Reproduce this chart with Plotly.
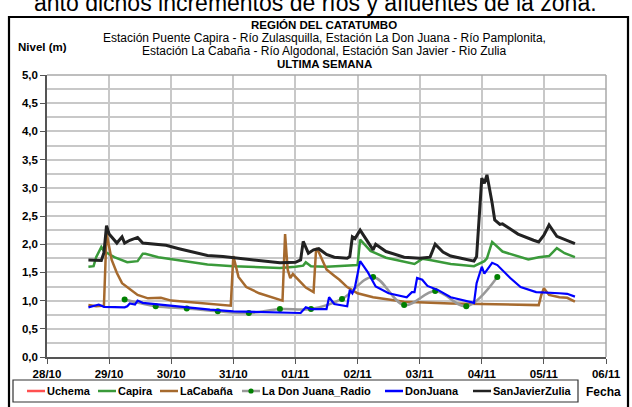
import plotly.graph_objects as go

YEAR = "2013"

# ---- data: river level (m) per station, timestamps "MM-DD HH:MM" ----
capira_t = ["10-28 16:00", "10-28 18:00", "10-28 19:00", "10-28 21:00", "10-28 22:00",
            "10-29 00:00", "10-29 02:00", "10-29 07:00", "10-29 11:00", "10-29 13:00",
            "10-29 14:00", "10-29 19:00", "10-30 03:00", "10-30 14:00", "10-31 00:00",
            "10-31 12:00", "10-31 18:00", "11-01 00:00", "11-01 03:00", "11-01 04:00",
            "11-01 06:00", "11-01 12:00", "11-02 00:00", "11-02 01:00", "11-02 05:00",
            "11-02 11:00", "11-02 20:00", "11-02 22:00", "11-03 01:00", "11-03 04:00",
            "11-03 12:00", "11-03 21:00", "11-04 01:00", "11-04 02:00", "11-04 04:00",
            "11-04 08:00", "11-04 18:00", "11-04 22:00", "11-05 02:00", "11-05 05:00",
            "11-05 08:00", "11-05 12:00"]
capira_v = [1.60, 1.61, 1.77, 1.95, 1.88,
            1.82, 1.77, 1.68, 1.70, 1.83,
            1.83, 1.77, 1.71, 1.64, 1.61,
            1.59, 1.58, 1.60, 1.62, 1.68,
            1.61, 1.60, 1.63, 2.08, 1.88,
            1.76, 1.67, 1.65, 1.74, 1.72,
            1.65, 1.61, 1.70, 1.75, 2.04,
            1.87, 1.73, 1.77, 1.79, 1.93,
            1.84, 1.77]

cabana_t = ["10-28 16:00", "10-28 19:00", "10-28 22:00", "10-28 23:00", "10-29 01:00",
            "10-29 03:00", "10-29 05:00", "10-29 08:00", "10-29 11:00", "10-29 15:00",
            "10-29 20:00", "10-30 00:00", "10-30 08:00", "10-30 14:00", "10-30 20:00",
            "10-30 23:00", "10-31 00:00", "10-31 02:00", "10-31 05:00", "10-31 10:00",
            "10-31 19:00", "10-31 20:00", "10-31 21:00", "10-31 22:00", "10-31 23:00",
            "11-01 02:00", "11-01 04:00", "11-01 07:00", "11-01 08:00", "11-01 09:00",
            "11-01 12:00", "11-01 15:00", "11-01 17:00", "11-01 20:00", "11-02 00:00",
            "11-02 06:00", "11-02 18:00", "11-03 12:00", "11-04 00:00", "11-04 12:00",
            "11-04 22:00", "11-04 23:00", "11-05 00:00", "11-05 02:00", "11-05 06:00",
            "11-05 09:00", "11-05 12:00"]
cabana_v = [0.92, 0.90, 0.91, 2.20, 1.72,
            1.49, 1.31, 1.20, 1.10, 1.04,
            1.05, 1.00, 0.97, 0.95, 0.93,
            0.91, 1.79, 1.42, 1.24, 1.13,
            1.00, 2.18, 1.55, 1.40, 1.47,
            1.33, 1.23, 1.15, 1.93, 1.86,
            1.55, 1.44, 1.37, 1.24, 1.13,
            1.06, 0.98, 0.95, 0.94, 0.92,
            0.92, 1.10, 1.22, 1.10, 1.06,
            1.05, 0.98]

radio_t = ["10-29 06:00", "10-29 18:00", "10-30 06:00", "10-30 18:00", "10-31 06:00",
           "10-31 18:00", "11-01 06:00", "11-01 18:00", "11-02 06:00", "11-02 18:00",
           "11-03 06:00", "11-03 18:00", "11-04 06:00"]
radio_v = [1.02, 0.90, 0.86, 0.81, 0.78,
           0.85, 0.85, 1.03, 1.42, 0.92,
           1.17, 0.90, 1.42]

donjuana_t = ["10-28 16:00", "10-28 20:00", "10-28 22:00", "10-29 06:00", "10-29 07:00",
              "10-29 08:00", "10-29 10:00", "10-29 11:00", "10-29 13:00", "10-29 19:00",
              "10-30 03:00", "10-30 15:00", "10-31 00:00", "10-31 12:00", "10-31 20:00",
              "11-01 02:00", "11-01 04:00", "11-01 06:00", "11-01 12:00", "11-01 13:00",
              "11-01 15:00", "11-01 20:00", "11-01 21:00", "11-01 22:00", "11-01 23:00",
              "11-02 01:00", "11-02 04:00", "11-02 07:00", "11-02 12:00", "11-02 19:00",
              "11-02 21:00", "11-02 22:00", "11-02 23:00", "11-03 01:00", "11-03 03:00",
              "11-03 07:00", "11-03 12:00", "11-03 21:00", "11-03 22:00", "11-04 00:00",
              "11-04 01:00", "11-04 04:00", "11-04 06:00", "11-04 11:00", "11-04 15:00",
              "11-04 21:00", "11-05 06:00", "11-05 09:00", "11-05 12:00"]
donjuana_v = [0.88, 0.93, 0.89, 0.88, 0.90,
              0.95, 0.93, 1.00, 0.96, 0.93,
              0.89, 0.84, 0.81, 0.79, 0.79,
              0.78, 0.88, 0.85, 0.85, 1.06,
              0.94, 0.90, 1.19, 1.13, 1.24,
              1.70, 1.50, 1.25, 1.13, 1.06,
              1.15, 1.15, 1.40, 1.37, 1.26,
              1.19, 1.06, 0.96, 1.31, 1.60,
              1.48, 1.67, 1.63, 1.40, 1.24,
              1.15, 1.13, 1.12, 1.07]

sanjavier_t = ["10-28 16:00", "10-28 21:00", "10-28 22:00", "10-28 23:00", "10-29 00:00",
               "10-29 03:00", "10-29 05:00", "10-29 06:00", "10-29 08:00", "10-29 11:00",
               "10-29 13:00", "10-29 16:00", "10-29 18:00", "10-29 22:00", "10-30 03:00",
               "10-30 08:00", "10-30 14:00", "10-30 20:00", "10-31 00:00", "10-31 12:00",
               "10-31 18:00", "11-01 00:00", "11-01 02:00", "11-01 03:00", "11-01 05:00",
               "11-01 07:00", "11-01 09:00", "11-01 12:00", "11-01 15:00", "11-01 20:00",
               "11-01 21:00", "11-01 22:00", "11-01 23:00", "11-02 01:00", "11-02 05:00",
               "11-02 06:00", "11-02 07:00", "11-02 11:00", "11-02 18:00", "11-03 00:00",
               "11-03 04:00", "11-03 06:00", "11-03 09:00", "11-03 12:00", "11-03 16:00",
               "11-03 21:00", "11-03 22:00", "11-03 23:00", "11-04 00:00", "11-04 01:00",
               "11-04 02:00", "11-04 04:00", "11-04 05:00", "11-04 07:00", "11-04 08:00",
               "11-04 10:00", "11-04 14:00", "11-04 20:00", "11-04 22:00", "11-05 00:00",
               "11-05 02:00", "11-05 05:00", "11-05 08:00", "11-05 12:00"]
sanjavier_v = [1.72, 1.71, 1.85, 2.33, 2.18,
               2.02, 2.13, 2.02, 2.07, 2.12,
               2.02, 2.01, 1.99, 1.98, 1.92,
               1.87, 1.80, 1.78, 1.76, 1.70,
               1.67, 1.68, 1.72, 2.05, 1.84,
               1.90, 1.92, 1.82, 1.77, 1.75,
               1.78, 2.13, 2.10, 2.25, 1.95,
               1.90, 2.00, 1.87, 1.77, 1.75,
               1.77, 2.00, 1.86, 1.79, 1.75,
               1.70, 1.78, 2.40, 3.17, 3.08,
               3.23, 2.73, 2.43, 2.35, 2.36,
               2.30, 2.18, 2.07, 2.04, 2.16,
               2.34, 2.14, 2.08, 2.01]

series_names = ["Uchema", "Capira", "LaCabaña", "La Don Juana_Radio", "DonJuana", "SanJavierZulia"]
series_colors = ["#ff5050", "#3a9a3a", "#a66a2e", "#999999", "#0000ff", "#222222"]

title_lines = ["<b>REGIÓN DEL CATATUMBO</b>",
               "Estación Puente Capira - Río Zulasquilla, Estación La Don Juana - Río Pamplonita,",
               "Estación La Cabaña - Río Algodonal, Estación San Javier - Rio Zulia",
               "<b>ULTIMA SEMANA</b>"]

FONT = "Arial, Liberation Sans, sans-serif"


def stamp(ts):
    return [f"{YEAR}-{s}" for s in ts]


fig = go.Figure()

# Uchema has no readings in this week
fig.add_trace(go.Scatter(x=[], y=[], mode="lines", name=series_names[0],
                         line=dict(color=series_colors[0], width=2.5), showlegend=False))
fig.add_trace(go.Scatter(x=stamp(capira_t), y=capira_v, mode="lines", name=series_names[1],
                         line=dict(color=series_colors[1], width=2.5), showlegend=False))
fig.add_trace(go.Scatter(x=stamp(cabana_t), y=cabana_v, mode="lines", name=series_names[2],
                         line=dict(color=series_colors[2], width=2.5), showlegend=False))
fig.add_trace(go.Scatter(x=stamp(radio_t), y=radio_v, mode="lines+markers", name=series_names[3],
                         line=dict(color=series_colors[3], width=2.5, shape="spline", smoothing=1.0),
                         marker=dict(color="#008000", size=6), showlegend=False))
fig.add_trace(go.Scatter(x=stamp(donjuana_t), y=donjuana_v, mode="lines", name=series_names[4],
                         line=dict(color=series_colors[4], width=2.2), showlegend=False))
fig.add_trace(go.Scatter(x=stamp(sanjavier_t), y=sanjavier_v, mode="lines", name=series_names[5],
                         line=dict(color=series_colors[5], width=3), showlegend=False))

# plot area occupies pixels x 47..606, y 75..357 of a 632x407 canvas
L, R, T, B = 47, 606, 75, 357


def px(x):
    return (x - L) / (R - L)


def py(y):
    return (B - y) / (B - T)


shapes = []
annotations = []

# outer chart frame
shapes.append(dict(type="rect", xref="paper", yref="paper",
                   x0=px(9), x1=px(628), y0=py(430), y1=py(17),
                   line=dict(color="black", width=2.2), layer="below"))
# light border on top / right of plot area
shapes.append(dict(type="line", xref="paper", yref="paper", x0=0, x1=1, y0=1, y1=1,
                   line=dict(color="#a8a8a8", width=1.5)))
shapes.append(dict(type="line", xref="paper", yref="paper", x0=1, x1=1, y0=0, y1=1,
                   line=dict(color="#a8a8a8", width=1.5)))

# title block
title_sizes = [11.5, 12, 12, 11.5]
for txt, ypix, fs in zip(title_lines, [25, 38, 51, 64], title_sizes):
    annotations.append(dict(text=txt, xref="paper", yref="paper", x=px(324), y=py(ypix),
                            xanchor="center", yanchor="middle", showarrow=False,
                            font=dict(family=FONT, size=fs, color="black")))

# text line above the chart frame (its upper part runs off the page)
annotations.append(dict(text="anto dichos incrementos de ríos y afluentes de la zona.",
                        xref="paper", yref="paper", x=px(32), y=py(18),
                        xanchor="left", yanchor="bottom", showarrow=False,
                        font=dict(family=FONT, size=23, color="black")))

annotations.append(dict(text="<b>Nivel (m)</b>", xref="paper", yref="paper", x=px(16), y=py(47),
                        xanchor="left", yanchor="middle", showarrow=False,
                        font=dict(family=FONT, size=11.5, color="black")))
annotations.append(dict(text="<b>Fecha</b>", xref="paper", yref="paper", x=px(603), y=py(392),
                        xanchor="center", yanchor="middle", showarrow=False,
                        font=dict(family=FONT, size=12, color="black")))

# legend box with one sample per station
shapes.append(dict(type="rect", xref="paper", yref="paper", x0=px(13), x1=px(578),
                   y0=py(402), y1=py(380), line=dict(color="#333333", width=1.2),
                   fillcolor="white"))
entry_x = [27, 98, 160, 242, 385, 473]
ly = py(391)
for name, color, ex in zip(series_names, series_colors, entry_x):
    shapes.append(dict(type="line", xref="paper", yref="paper", x0=px(ex), x1=px(ex + 18),
                       y0=ly, y1=ly, line=dict(color=color, width=2.5)))
    annotations.append(dict(text=f"<b>{name}</b>", xref="paper", yref="paper", x=px(ex + 18),
                            y=ly, xanchor="left", yanchor="middle", showarrow=False,
                            font=dict(family=FONT, size=11, color="black")))
rx = entry_x[3] + 9
shapes.append(dict(type="circle", xref="paper", yref="paper",
                   x0=px(rx - 2.6), x1=px(rx + 2.6), y0=py(391 + 2.6), y1=py(391 - 2.6),
                   fillcolor="#008000", line=dict(color="#008000", width=0)))

fig.update_layout(
    width=632, height=407, autosize=False,
    margin=dict(l=L, r=632 - R, t=T, b=407 - B),
    paper_bgcolor="white", plot_bgcolor="white",
    separators=",.",
    font=dict(family=FONT, color="black"),
    showlegend=False,
    shapes=shapes, annotations=annotations,
)

fig.update_xaxes(
    type="date", range=[f"{YEAR}-10-28", f"{YEAR}-11-06"],
    dtick=86400000, tick0=f"{YEAR}-10-28", tickformat="%d/%m",
    showgrid=True, gridcolor="#c8c8c8", gridwidth=1.5,
    showline=True, linecolor="#555555", linewidth=1.5,
    ticks="outside", ticklen=5, tickcolor="#555555", tickwidth=1.2,
    tickfont=dict(family=FONT, size=11.5, color="black", weight="bold"),
    zeroline=False,
)
fig.update_yaxes(
    range=[0, 5], dtick=0.5, tick0=0, tickformat=".1f",
    showgrid=True, gridcolor="#c8c8c8", gridwidth=1.5,
    minor=dict(dtick=0.25, showgrid=True, gridcolor="#c8c8c8", gridwidth=1.5),
    showline=True, linecolor="#555555", linewidth=1.5,
    ticks="outside", ticklen=5, tickcolor="#555555", tickwidth=1.2,
    tickfont=dict(family=FONT, size=11.5, color="black", weight="bold"),
    zeroline=False,
)

fig.write_html("out.html")
